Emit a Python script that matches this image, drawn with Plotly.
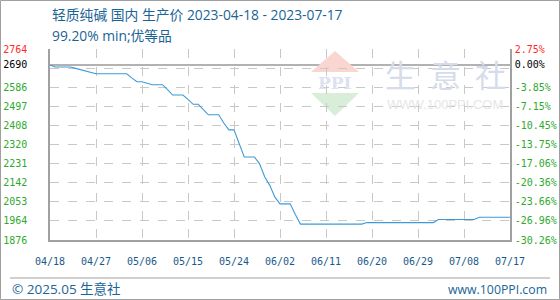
import plotly.graph_objects as go
import pandas as pd

# ---------------- data ----------------
title_text = "轻质纯碱 国内 生产价 2023-04-18 - 2023-07-17"
subtitle_text = "99.20% min;优等品"
footer_left = "© 2025.05 生意社"
footer_right = "www.100PPI.com"
start_date = "2023-04-18"
end_date = "2023-07-17"

dates = pd.date_range(start_date, end_date, freq="D")
prices = [
    2690, 2680, 2680, 2680, 2680, 2674, 2668, 2663, 2657, 2649,
    2649, 2649, 2649, 2649, 2649, 2649, 2630, 2612, 2612, 2606,
    2598, 2598, 2598, 2575, 2550, 2550, 2550, 2530, 2507, 2507,
    2480, 2458, 2458, 2458, 2420, 2388, 2388, 2320, 2262, 2262,
    2262, 2230, 2170, 2130, 2075, 2044, 2044, 2044, 1995, 1950,
    1950, 1950, 1950, 1950, 1950, 1950, 1950, 1950, 1950, 1950,
    1950, 1950, 1957, 1957, 1957, 1957, 1957, 1957, 1957, 1957,
    1957, 1957, 1957, 1957, 1957, 1957, 1971, 1971, 1971, 1971,
    1971, 1971, 1971, 1971, 1982, 1982, 1982, 1982, 1982, 1982,
    1982,
]

base_price = 2690
y_range = [1876, 2764]
grid_values = [1876, 1964.8, 2053.6, 2142.4, 2231.2, 2320.0, 2408.8,
               2497.6, 2586.4, 2675.2, 2764]
tick_values = [1876, 1964.8, 2053.6, 2142.4, 2231.2, 2320.0, 2408.8,
               2497.6, 2586.4, 2690, 2764]
left_labels = ["1876", "1964", "2053", "2142", "2231", "2320", "2408",
               "2497", "2586", "2690", "2764"]
right_labels = ["-30.26%", "-26.96%", "-23.66%", "-20.36%", "-17.06%",
                "-13.75%", "-10.45%", "-7.15%", "-3.85%", "0.00%", "2.75%"]
x_tick_dates = pd.date_range(start_date, end_date, freq="9D")
x_tick_labels = ["04/18", "04/27", "05/06", "05/15", "05/24", "06/02",
                 "06/11", "06/20", "06/29", "07/08", "07/17"]

# ---------------- styles ----------------
GREEN = "#2eaa2e"
RED = "#ff2a2a"
BLACK = "#000000"
BLUE_TXT = "#1a6496"
LINE = "#3d9ad8"
GRID = "#c8c8c8"
AXIS = "#a0a0a0"
TXT_FONT = "Open Sans, Noto Sans CJK SC, sans-serif"
MONO = "DejaVu Sans Mono, monospace"


def colour_for(v):
    if v == y_range[1]:
        return RED
    if v == base_price:
        return BLACK
    return GREEN


left_text = [f'<span style="color:{colour_for(v)}">{t}</span>'
             for v, t in zip(tick_values, left_labels)]
right_text = [f'<span style="color:{colour_for(v)}">{t}</span>'
              for v, t in zip(tick_values, right_labels)]

L, R, T, B = 50, 50, 49, 60
W, H = 560, 300
PW, PH = W - L - R, H - T - B


def px(x):
    return (x - L) / PW


def py(y):
    return (H - B - y) / PH


fig = go.Figure()
fig.add_trace(go.Scatter(x=dates, y=prices, mode="lines",
                         line=dict(color=LINE, width=1.1),
                         hoverinfo="skip", showlegend=False))
# invisible trace for right axis
fig.add_trace(go.Scatter(x=[dates[0]], y=[base_price], yaxis="y2",
                         mode="markers", marker=dict(opacity=0),
                         hoverinfo="skip", showlegend=False))

shapes = []
# baseline at start price
shapes.append(dict(type="line", xref="paper", yref="y", x0=0, x1=1,
                   y0=base_price, y1=base_price,
                   line=dict(color="#999999", width=1.5), layer="below"))
# outer frame
shapes.append(dict(type="rect", xref="paper", yref="paper",
                   x0=px(0.5), x1=px(559.5), y0=py(299.5), y1=py(0.5),
                   line=dict(color=AXIS, width=1)))
# footer separator
shapes.append(dict(type="line", xref="paper", yref="paper",
                   x0=px(10), x1=px(550), y0=py(278), y1=py(278),
                   line=dict(color=AXIS, width=1)))
# watermark logo triangles
shapes.append(dict(type="path", xref="paper", yref="paper",
                   path=f"M {px(335)} {py(51)} L {px(359)} {py(72)} L {px(311)} {py(72)} Z",
                   fillcolor="#f9d6cf", line=dict(width=0), layer="below"))
shapes.append(dict(type="path", xref="paper", yref="paper",
                   path=f"M {px(311)} {py(93)} L {px(359)} {py(93)} L {px(335)} {py(116)} Z",
                   fillcolor="#d8eed8", line=dict(width=0), layer="below"))

annotations = [
    dict(text=title_text, x=px(50), y=py(15), xref="paper", yref="paper",
         xanchor="left", yanchor="middle", showarrow=False,
         font=dict(family=TXT_FONT, size=13.8, color=BLUE_TXT)),
    dict(text=subtitle_text, x=px(50), y=py(35), xref="paper", yref="paper",
         xanchor="left", yanchor="middle", showarrow=False,
         font=dict(family=TXT_FONT, size=13.8, color=BLUE_TXT)),
    dict(text=footer_left, x=px(10), y=py(289), xref="paper", yref="paper",
         xanchor="left", yanchor="middle", showarrow=False,
         font=dict(family=TXT_FONT, size=13.5, color=BLUE_TXT)),
    dict(text=footer_right, x=px(549), y=py(289), xref="paper", yref="paper",
         xanchor="right", yanchor="middle", showarrow=False,
         font=dict(family=TXT_FONT, size=12.3, color=BLUE_TXT)),
    # watermark text
    dict(text="<b>PPI</b>", x=px(335), y=py(83), xref="paper", yref="paper",
         xanchor="center", yanchor="middle", showarrow=False,
         font=dict(family="DejaVu Serif, serif", size=17, color="#dbe2f0")),
    dict(text="WWW.100PPI.COM", x=px(385), y=py(104), xref="paper", yref="paper",
         xanchor="left", yanchor="middle", showarrow=False,
         font=dict(family="Liberation Sans, sans-serif", size=13, color="#e6e6e6")),
]
for ch, cx in zip(["生", "意", "社"], [400, 445, 490]):
    annotations.append(dict(text=ch, x=px(cx), y=py(73), xref="paper", yref="paper",
                            xanchor="center", yanchor="middle", showarrow=False,
                            font=dict(family="Noto Sans CJK SC", size=31, color="#d6dcea")))

fig.update_layout(
    width=W, height=H,
    margin=dict(l=L, r=R, t=T, b=B, pad=0, autoexpand=False),
    paper_bgcolor="white", plot_bgcolor="white",
    showlegend=False,
    shapes=shapes,
    annotations=annotations,
    xaxis=dict(
        type="date", range=[start_date, end_date], automargin=False,
        tickmode="array", tickvals=x_tick_dates, ticktext=x_tick_labels,
        ticks="outside", ticklen=11, tickcolor="rgba(0,0,0,0)",
        tickfont=dict(family=MONO, size=10, color="#1a5a8a"),
        showgrid=True, gridcolor=GRID, griddash="dash", gridwidth=1,
        showline=True, linecolor=AXIS, linewidth=1.5,
        zeroline=False, fixedrange=True,
    ),
    yaxis=dict(
        range=y_range, automargin=False,
        tickmode="array", tickvals=tick_values, ticktext=left_text,
        ticks="outside", ticklen=19, tickcolor="rgba(0,0,0,0)",
        tickfont=dict(family=MONO, size=10),
        showgrid=False,
        minor=dict(tickmode="array", tickvals=grid_values, showgrid=True,
                   gridcolor=GRID, griddash="dash", gridwidth=1, ticks=""),
        showline=True, linecolor=AXIS, linewidth=1.5,
        zeroline=False, fixedrange=True,
    ),
    yaxis2=dict(
        range=y_range, overlaying="y", side="right", automargin=False,
        tickmode="array", tickvals=tick_values, ticktext=right_text,
        ticks="outside", ticklen=1, tickcolor="rgba(0,0,0,0)",
        tickfont=dict(family=MONO, size=10),
        showgrid=False, showline=True, linecolor=AXIS, linewidth=1.5,
        zeroline=False, fixedrange=True,
    ),
)

fig.write_html("out.html", config={"displayModeBar": False})
